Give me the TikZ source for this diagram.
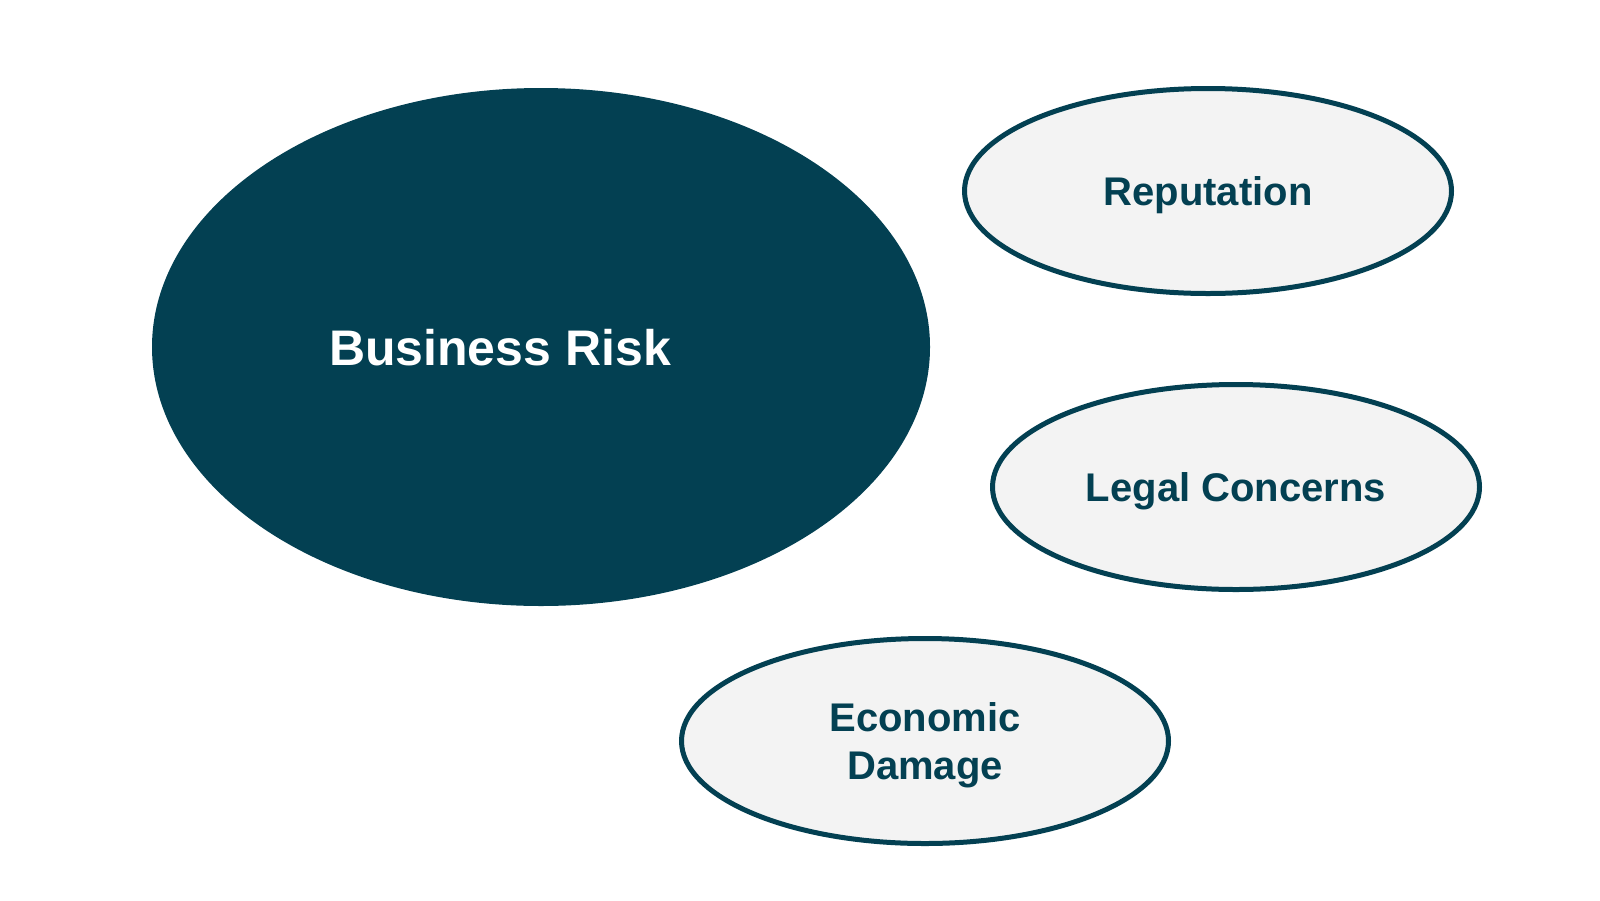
\documentclass[tikz,border=0pt]{standalone}
\usepackage{fontspec}
\setmainfont{Liberation Sans}
\usetikzlibrary{shapes.geometric}
\definecolor{teal}{RGB}{3,64,82}
\definecolor{paleg}{RGB}{243,243,243}
\begin{document}
\begin{tikzpicture}[x=1pt,y=-1pt,
  bigell/.style={ellipse, fill=teal, draw=none, minimum width=778pt, minimum height=518pt, inner sep=0pt},
  smallell/.style={ellipse, fill=paleg, draw=teal, line width=5pt, minimum width=487pt, minimum height=205pt, inner sep=0pt,
    text=teal, font=\bfseries\fontsize{40}{48}\selectfont, align=center, text depth=0pt},
  bigtext/.style={text=white, font=\bfseries\fontsize{50}{60}\selectfont, inner sep=0pt, anchor=base}
]
\useasboundingbox (0,0) rectangle (1600,900);
\fill[white] (0,0) rectangle (1600,900);
\node[bigell] (risk) at (541,347) {};
\node[bigtext] (risklabel) at (500,365) {Business Risk};
\node[smallell] (rep) at (1208,191) {Reputation};
\node[smallell] (legal) at (1236,487) {Legal Concerns};
\node[smallell] (econ) at (925,741) {Economic\\Damage};
\end{tikzpicture}
\end{document}
